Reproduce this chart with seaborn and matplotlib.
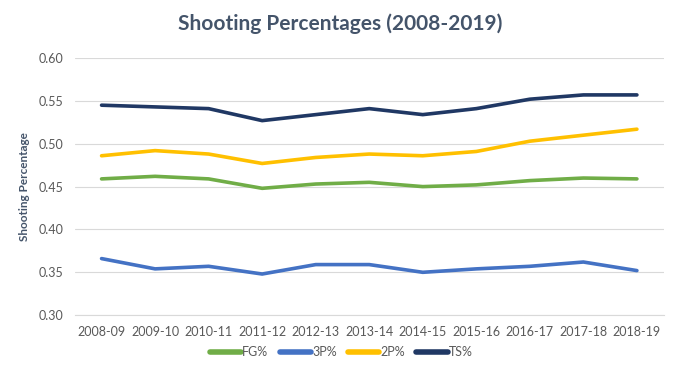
import pandas as pd
import matplotlib.pyplot as plt
from matplotlib.ticker import FixedLocator
import seaborn as sns

# Seasons and shooting percentages
seasons = ['2008-09', '2009-10', '2010-11', '2011-12', '2012-13', '2013-14',
           '2014-15', '2015-16', '2016-17', '2017-18', '2018-19']
fg_pct = [0.459, 0.462, 0.459, 0.448, 0.453, 0.455, 0.450, 0.452, 0.457, 0.460, 0.459]
three_pct = [0.366, 0.354, 0.357, 0.348, 0.359, 0.359, 0.350, 0.354, 0.357, 0.362, 0.352]
two_pct = [0.486, 0.492, 0.488, 0.477, 0.484, 0.488, 0.486, 0.491, 0.503, 0.510, 0.517]
ts_pct = [0.545, 0.543, 0.541, 0.527, 0.534, 0.541, 0.534, 0.541, 0.552, 0.557, 0.557]

series_names = ['FG%', '3P%', '2P%', 'TS%']
series_colors = ['#70AD47', '#4472C4', '#FFC000', '#203864']

# Long format table for seaborn
rows = []
for name, vals in zip(series_names, [fg_pct, three_pct, two_pct, ts_pct]):
    for i, v in enumerate(vals):
        rows.append({'pos': i, 'season': seasons[i], 'stat': name, 'value': v})
df = pd.DataFrame(rows)

sns.set_style('white')
plt.rcParams['font.family'] = ['Lato', 'DejaVu Sans']

fig = plt.figure(figsize=(6.8, 3.82), dpi=100)
ax = fig.add_axes([0.110, 0.175, 0.866, 0.673])

sns.lineplot(data=df, x='pos', y='value', hue='stat', hue_order=series_names,
             palette=series_colors, linewidth=2.6, ax=ax, legend=True)

ax.set_xlim(-0.5, len(seasons) - 0.5)
ax.set_ylim(0.30, 0.60)
ax.set_yticks([0.30, 0.35, 0.40, 0.45, 0.50, 0.55, 0.60])
ax.set_yticklabels([f'{t:.2f}' for t in ax.get_yticks()], fontsize=9, color='#595959')
ax.set_xticks(range(len(seasons)))
ax.set_xticklabels(seasons, fontsize=9, color='#595959')
ax.xaxis.set_minor_locator(FixedLocator([i - 0.5 for i in range(len(seasons) + 1)]))
ax.tick_params(axis='x', which='major', length=0, pad=8)
ax.tick_params(axis='x', which='minor', length=5, color='#D9D9D9', width=0.8)
ax.tick_params(axis='y', length=0, pad=8)

ax.grid(axis='y', color='#D9D9D9', linewidth=0.8)
ax.set_axisbelow(True)
for s in ['top', 'right', 'left']:
    ax.spines[s].set_visible(False)
ax.spines['bottom'].set_color('#D9D9D9')
ax.spines['bottom'].set_linewidth(0.8)

ax.set_xlabel('')
ax.set_ylabel('Shooting Percentage', fontsize=8.5, fontweight='bold', color='#44546A', labelpad=6)

fig.suptitle('Shooting Percentages (2008-2019)', fontsize=15, fontweight='bold',
             color='#44546A', x=0.5, y=0.965)

handles, labels = ax.get_legend_handles_labels()
for h in handles:
    h.set_linewidth(4)
ax.get_legend().remove()
fig.legend(handles, labels, loc='center', bbox_to_anchor=(0.502, 0.078), ncol=4,
           frameon=False, fontsize=9, handlelength=2.5, handletextpad=0.1,
           columnspacing=0.9, labelcolor='#595959')

plt.savefig('out.png', dpi=100)
